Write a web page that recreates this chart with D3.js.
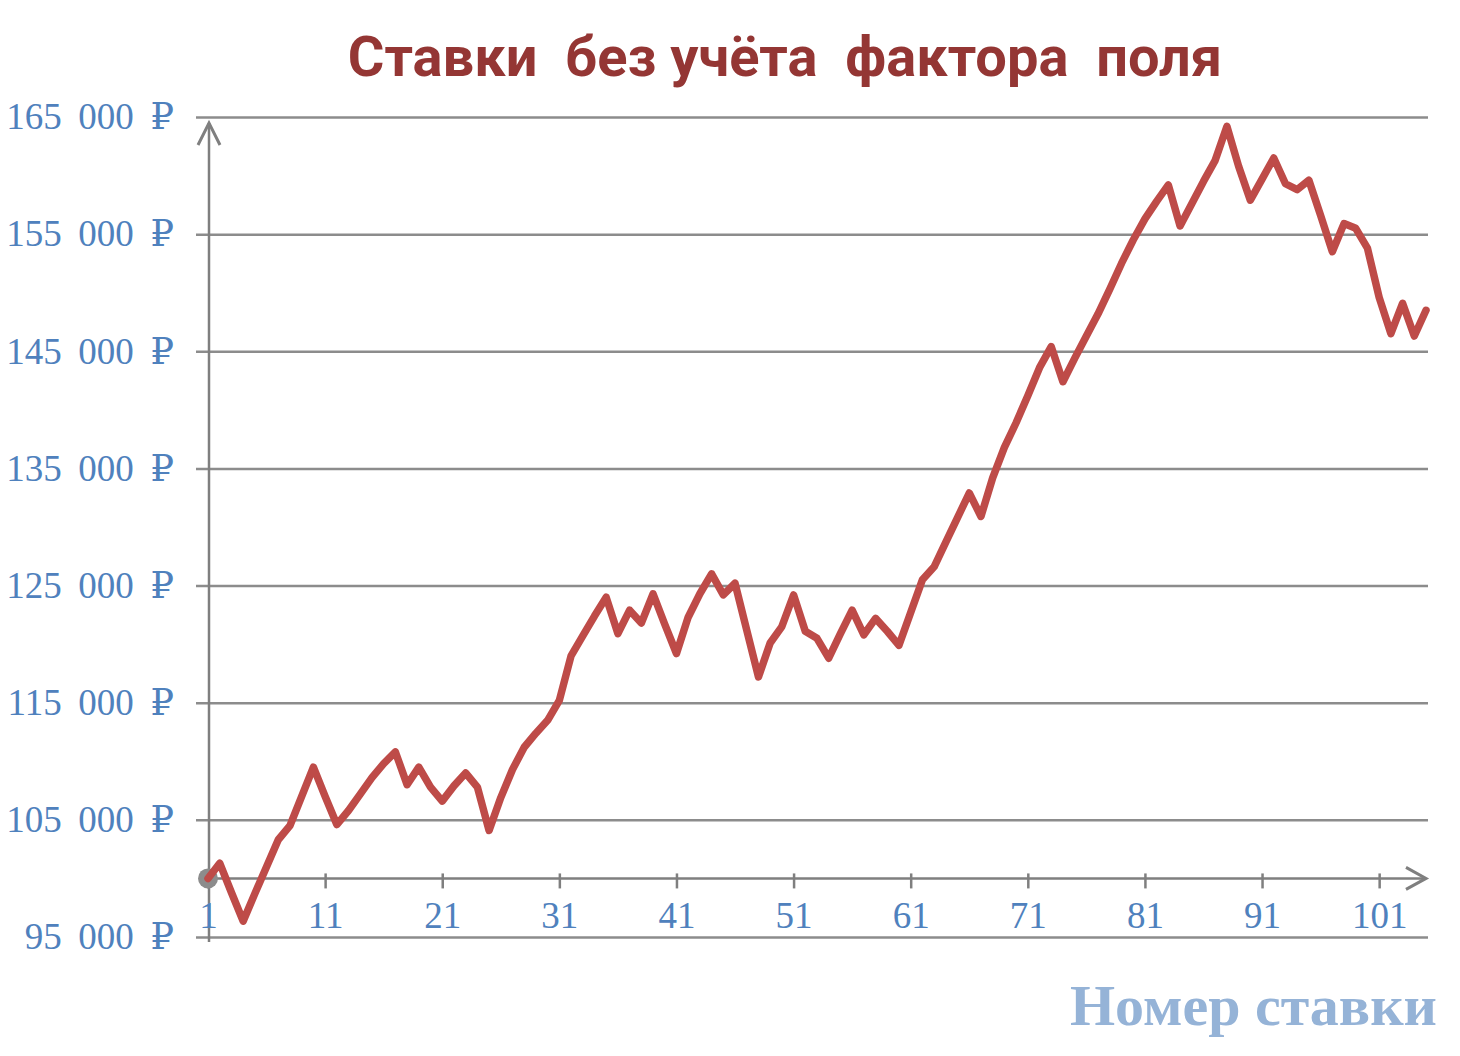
<!DOCTYPE html>
<html lang="ru">
<head>
    <meta charset="UTF-8">
    <title>Ставки без учёта фактора поля</title>
    <script src="https://d3js.org/d3.v7.min.js"></script>
    <style>
        body { margin: 0; background: #ffffff; }
        svg { display: block; }
        text { white-space: pre; }
    </style>
</head>
<body>
<svg id="chart" width="1460" height="1056"></svg>
<script>
    // bankroll after each bet (bet number = index + 1)
    const bankroll = [
        100000, 101300, 98800, 96350, 98700, 101000, 103300, 104500, 107000, 109500,
        107000, 104600, 105800, 107200, 108600, 109800, 110800, 108000, 109500, 107800,
        106600, 107900, 109000, 107800, 104100, 106900, 109300, 111200, 112400, 113500,
        115200, 119000, 120700, 122400, 124000, 120900, 122900, 121800, 124300, 121700,
        119200, 122300, 124300, 126000, 124200, 125200, 121200, 117200, 120100, 121500,
        124200, 121100, 120500, 118800, 120900, 122900, 120800, 122200, 121100, 119900,
        122700, 125500, 126600, 128700, 130800, 132900, 130900, 134200, 136800, 138900,
        141200, 143600, 145400, 142400, 144400, 146300, 148200, 150300, 152500, 154500,
        156300, 157800, 159200, 155700, 157600, 159500, 161300, 164200, 160800, 157900,
        159700, 161500, 159300, 158800, 159600, 156600, 153500, 155900, 155500, 153800,
        149600, 146500, 149100, 146300, 148500
    ];
    const xTicks = [1, 11, 21, 31, 41, 51, 61, 71, 81, 91, 101];
    const yTicks = [95000, 105000, 115000, 125000, 135000, 145000, 155000, 165000];
    const startBank = 100000;   // horizontal axis crosses here
    const chartTitle = "Ставки  без учёта  фактора  поля";
    const xTitle = "Номер ставки";

    const svg = d3.select("#chart");
    const blue = "#4f81bd";
    const axisGray = "#7f7f7f";

    const x = d3.scaleLinear().domain([1, bankroll.length]).range([208, 1426]);
    const y = d3.scaleLinear().domain([95000, 165000]).range([937, 117]);

    const rub = d => d3.format(",")(d).replace(/,/g, "\u2009\u00a0") + "\u00a0\u2009₽";

    // gridlines + y labels
    const yAxis = svg.append("g")
        .attr("transform", `translate(${x(1)},0)`)
        .call(d3.axisLeft(y)
            .tickValues(yTicks)
            .tickSize(-(1428 - x(1)))
            .tickPadding(34)
            .tickFormat(rub));
    yAxis.select(".domain").remove();
    yAxis.selectAll(".tick line")
        .attr("x1", -12)
        .attr("stroke", "#8c8c8c")
        .attr("stroke-width", 2.5);
    yAxis.selectAll(".tick text")
        .attr("fill", blue)
        .style("font-family", "'Liberation Serif', 'DejaVu Serif', serif")
        .style("font-size", "37px");

    // vertical axis with arrow
    svg.append("line")
        .attr("x1", x(1) + 1).attr("x2", x(1) + 1)
        .attr("y1", 942).attr("y2", 123)
        .attr("stroke", axisGray).attr("stroke-width", 2.5);
    svg.append("path")
        .attr("d", `M${x(1) - 10},${145} L${x(1) + 1},${123} L${x(1) + 12},${145}`)
        .attr("fill", "none").attr("stroke", axisGray).attr("stroke-width", 3);

    // horizontal axis at the starting bankroll
    const xAxis = svg.append("g")
        .attr("transform", `translate(0,${y(startBank)})`)
        .call(d3.axisBottom(x)
            .tickValues(xTicks)
            .tickSize(10)
            .tickPadding(13)
            .tickFormat(d => d));
    xAxis.select(".domain").remove();
    xAxis.selectAll(".tick line")
        .attr("y1", -5)
        .attr("stroke", axisGray)
        .attr("stroke-width", 2.5);
    xAxis.selectAll(".tick text")
        .attr("fill", blue)
        .style("font-family", "'Liberation Serif', 'DejaVu Serif', serif")
        .style("font-size", "37px");
    xAxis.append("line")
        .attr("x1", x(1)).attr("x2", 1426)
        .attr("stroke", axisGray).attr("stroke-width", 2.5);
    xAxis.append("path")
        .attr("d", "M1406,-11 L1426,0 L1406,11")
        .attr("fill", "none").attr("stroke", axisGray).attr("stroke-width", 3);

    // start marker
    svg.append("circle")
        .attr("cx", x(1)).attr("cy", y(bankroll[0]))
        .attr("r", 10)
        .attr("fill", "#8c8c8c");

    // bankroll line
    const line = d3.line()
        .x((d, i) => x(i + 1))
        .y(d => y(d));
    svg.append("path")
        .datum(bankroll)
        .attr("d", line)
        .attr("fill", "none")
        .attr("stroke", "#be4b48")
        .attr("stroke-width", 7.5)
        .attr("stroke-linejoin", "round")
        .attr("stroke-linecap", "round");

    // titles
    svg.append("text")
        .attr("x", 785).attr("y", 76)
        .attr("text-anchor", "middle")
        .attr("fill", "#943634")
        .style("font-family", "Roboto, 'Noto Sans', sans-serif")
        .style("font-weight", "bold")
        .style("font-size", "56px")
        .text(chartTitle);

    svg.append("text")
        .attr("x", 1437).attr("y", 1025)
        .attr("text-anchor", "end")
        .attr("fill", "#95b3d7")
        .style("font-family", "'Liberation Serif', 'DejaVu Serif', serif")
        .style("font-weight", "bold")
        .style("font-size", "58px")
        .text(xTitle);
</script>
</body>
</html>
